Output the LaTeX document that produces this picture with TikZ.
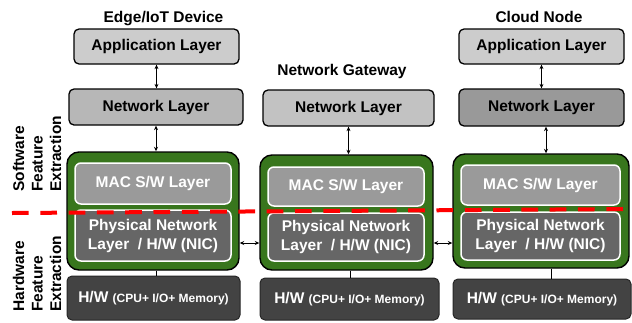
\documentclass[tikz,border=0pt]{standalone}
\usepackage{fontspec}
\setmainfont{Liberation Sans}
\usetikzlibrary{arrows.meta}
\definecolor{appgray}{HTML}{CCCCCC}
\definecolor{netgray}{HTML}{B7B7B7}
\definecolor{netdark}{HTML}{999999}
\definecolor{macgray}{HTML}{9A9A9A}
\definecolor{phygray}{HTML}{666666}
\definecolor{hwgray}{HTML}{434343}
\definecolor{nicgreen}{HTML}{38761D}
\tikzset{
  lbl/.style={font=\fontsize{15.5}{19}\selectfont\bfseries, align=center, inner sep=0pt},
  layerbox/.style={lbl, draw=black, line width=1.3pt, rounded corners=5pt, text=black},
  greenbox/.style={draw=black, line width=1.4pt, fill=nicgreen, rounded corners=12pt, inner sep=0pt},
  macbox/.style={lbl, draw=white, line width=1.5pt, fill=macgray, rounded corners=6pt, text=white},
  phybox/.style={lbl, draw=white, line width=1.5pt, fill=phygray, rounded corners=6pt, text=white},
  hwbox/.style={lbl, draw=black!85, line width=1pt, fill=hwgray, rounded corners=5pt, text=white},
  title/.style={font=\fontsize{15.5}{19}\selectfont\bfseries, inner sep=0pt, anchor=base},
  side/.style={font=\fontsize{15.5}{18.5}\selectfont\bfseries, align=left, inner sep=0pt, rotate=90, anchor=west},
  dbl/.style={{Stealth[length=4.5pt,width=4pt]}-{Stealth[length=4.5pt,width=4pt]}, line width=0.8pt},
  sep/.style={draw=red, line width=4pt, dash pattern=on 16.7pt off 11.6pt},
}
\newcommand{\hwtext}{H/W {\fontsize{12}{14}\selectfont (CPU+ I/O+ Memory)}}
\begin{document}
\begin{tikzpicture}[x=1pt, y=-1pt]
\useasboundingbox (0,0) rectangle (632,322);
% titles
\node[title] (tL) at (163.5,22) {Edge/IoT Device};
\node[title] (tM) at (342,75) {Network Gateway};
\node[title] (tR) at (539,22) {Cloud Node};
% left column
\node[layerbox, fill=appgray, minimum width=165pt, minimum height=35pt] (aL) at (156.5,46.5) {Application Layer};
\node[layerbox, fill=netgray, minimum width=174pt, minimum height=36pt] (nL) at (156,107) {Network Layer};
\node[greenbox, minimum width=172pt, minimum height=118pt] (gL) at (153,211) {};
\node[macbox, minimum width=156pt, minimum height=41pt] (mL) at (153,183.5) {MAC S/W Layer};
\node[phybox, minimum width=156pt, minimum height=51pt] (pL) at (153,235.5) {Physical Network\\Layer\ \ / H/W (NIC)};
\node[hwbox, minimum width=173pt, minimum height=44pt] (hL) at (153.5,298) {\hwtext};
% middle column
\node[layerbox, fill=netgray!85!white, minimum width=171pt, minimum height=36pt] (nM) at (348.5,108) {Network Layer};
\node[greenbox, minimum width=173pt, minimum height=115pt] (gM) at (346.5,212.5) {};
\node[macbox, minimum width=156pt, minimum height=39pt] (mM) at (346,186.5) {MAC S/W Layer};
\node[phybox, minimum width=156pt, minimum height=48pt] (pM) at (346,237) {Physical Network\\Layer\ \ / H/W (NIC)};
\node[hwbox, minimum width=179pt, minimum height=42pt] (hM) at (349.5,299) {\hwtext};
% right column
\node[layerbox, fill=appgray, minimum width=165pt, minimum height=35pt] (aR) at (541.5,46.5) {Application Layer};
\node[layerbox, fill=netdark, minimum width=165pt, minimum height=37pt] (nR) at (541.5,107.5) {Network Layer};
\node[greenbox, minimum width=176pt, minimum height=114pt] (gR) at (541,211) {};
\node[macbox, minimum width=159pt, minimum height=40pt] (mR) at (540.5,185) {MAC S/W Layer};
\node[phybox, minimum width=159pt, minimum height=48pt] (pR) at (540.5,236) {Physical Network\\Layer\ \ / H/W (NIC)};
\node[hwbox, minimum width=178pt, minimum height=40pt] (hR) at (542,299) {\hwtext};
% side labels
\node[side] (sw) at (37,192) {Software\\Feature\\Extraction};
\node[side] (hw) at (37,312) {Hardware\\Feature\\Extraction};
% vertical arrows
\draw[dbl] (aL.south) -- (aL.south |- nL.north);
\draw[dbl] (nL.south) -- (nL.south |- gL.north);
\draw[dbl] (nM.south) -- (nM.south |- gM.north);
\draw[dbl] (aR.south) -- (aR.south |- nR.north);
\draw[dbl] ([xshift=4.5pt]nR.south) -- ([xshift=4.5pt]nR.south |- gR.north);
% HW links
\draw[line width=1pt] ([xshift=3pt]gL.south) -- ([xshift=3pt]gL.south |- hL.north);
\draw[line width=1pt] ([xshift=3.5pt]gM.south) -- ([xshift=3.5pt]gM.south |- hM.north);
\draw[line width=1pt] ([xshift=10pt]gR.south) -- ([xshift=10pt]gR.south |- hR.north);
% horizontal arrows
\coordinate (ay) at (0,243);
\draw[dbl] (gL.east |- ay) -- (gM.west |- ay);
\draw[dbl] (gM.east |- ay) -- (gR.west |- ay);
% separator
\coordinate (s1) at (12,213);
\coordinate (s2) at (632,209);
\draw[sep] (s1) -- (s2);
\end{tikzpicture}
\end{document}
